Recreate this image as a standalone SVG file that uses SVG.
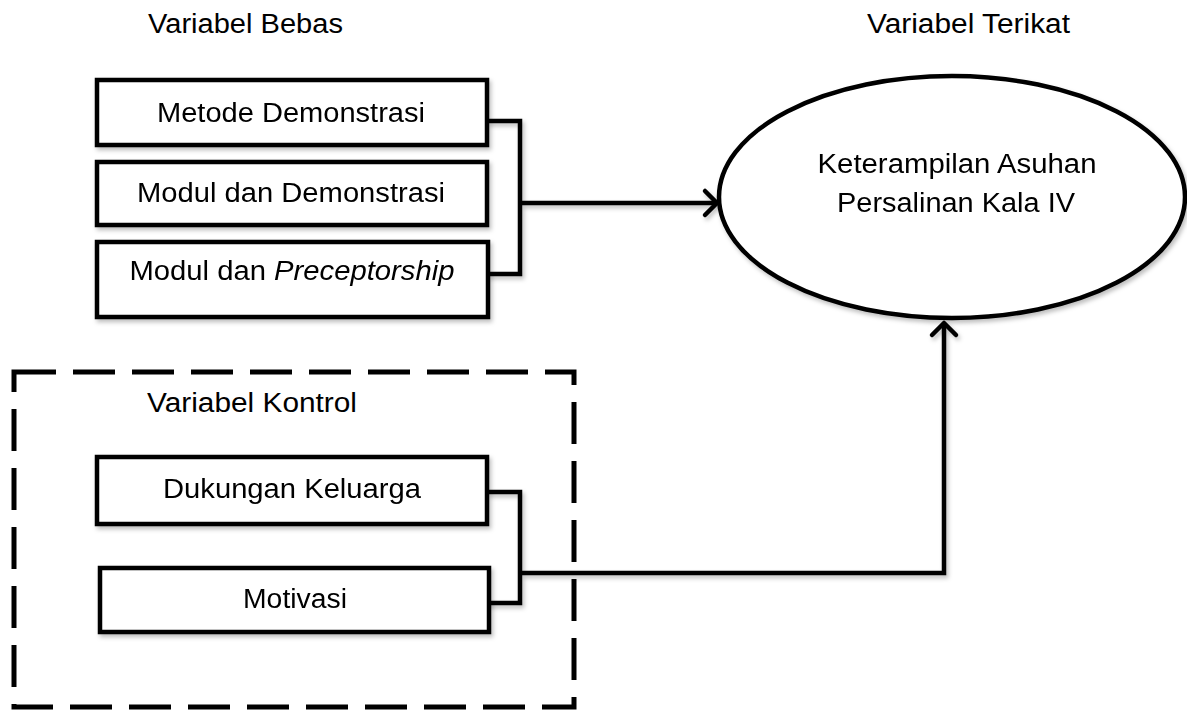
<svg xmlns="http://www.w3.org/2000/svg" width="1187" height="710" viewBox="0 0 1187 710">
<style>
text{font-family:"Liberation Sans",Arial,sans-serif;font-size:27px;fill:#000}
.mid{text-anchor:middle}
.box{fill:#fff;stroke:#000;stroke-width:4.5}
.conn{fill:none;stroke:#000;stroke-width:4.5;stroke-linejoin:miter}
.head{fill:none;stroke:#000;stroke-width:4.5;stroke-linecap:round;stroke-linejoin:round}
</style>
<defs>
<filter id="sh" x="-10%" y="-10%" width="130%" height="140%">
<feDropShadow dx="2" dy="3" stdDeviation="2" flood-color="#000" flood-opacity="0.25"/>
</filter>
</defs>
<rect width="1187" height="710" fill="#fff"/>
<text id="lbl-bebas" x="148" y="33" textLength="195" lengthAdjust="spacingAndGlyphs">Variabel Bebas</text>
<text id="lbl-terikat" x="867" y="33" textLength="203" lengthAdjust="spacingAndGlyphs">Variabel Terikat</text>
<g id="kontrol-group">
<rect x="14" y="372" width="560" height="335" fill="none" stroke="#000" stroke-width="5" stroke-dasharray="42 17"/>
<text x="147" y="412" textLength="210" lengthAdjust="spacingAndGlyphs">Variabel Kontrol</text>
</g>
<g id="connectors" filter="url(#sh)">
<path class="conn" d="M487,121 H520 V274 H487 M520,203 H715"/>
<path class="head" d="M705,191 L717,203 L705,215"/>
<path class="conn" d="M487,492 H520 V603 H485 M520,573 H944 V325"/>
<path class="head" d="M932,335 L944,323 L956,335"/>
</g>
<g id="n-metode" filter="url(#sh)">
<rect class="box" x="97" y="80" width="390" height="65"/>
<text class="mid" x="291" y="122" textLength="268" lengthAdjust="spacingAndGlyphs">Metode Demonstrasi</text>
</g>
<g id="n-modul-demo" filter="url(#sh)">
<rect class="box" x="97" y="162" width="390" height="63"/>
<text class="mid" x="291" y="202" textLength="308" lengthAdjust="spacingAndGlyphs">Modul dan Demonstrasi</text>
</g>
<g id="n-modul-precep" filter="url(#sh)">
<rect class="box" x="97" y="242" width="391" height="75"/>
<text class="mid" x="292" y="280" textLength="325" lengthAdjust="spacingAndGlyphs">Modul dan <tspan font-style="italic">Preceptorship</tspan></text>
</g>
<g id="n-dukungan" filter="url(#sh)">
<rect class="box" x="97" y="457" width="390" height="67"/>
<text class="mid" x="292" y="498" textLength="258" lengthAdjust="spacingAndGlyphs">Dukungan Keluarga</text>
</g>
<g id="n-motivasi" filter="url(#sh)">
<rect class="box" x="100" y="568" width="389" height="64"/>
<text class="mid" x="295" y="608" textLength="104" lengthAdjust="spacingAndGlyphs">Motivasi</text>
</g>
<g id="n-keterampilan" filter="url(#sh)">
<ellipse class="box" cx="952" cy="197" rx="233" ry="121"/>
<text class="mid" x="957" y="173" textLength="279" lengthAdjust="spacingAndGlyphs">Keterampilan Asuhan</text>
<text class="mid" x="956" y="212" textLength="238" lengthAdjust="spacingAndGlyphs">Persalinan Kala IV</text>
</g>
</svg>
